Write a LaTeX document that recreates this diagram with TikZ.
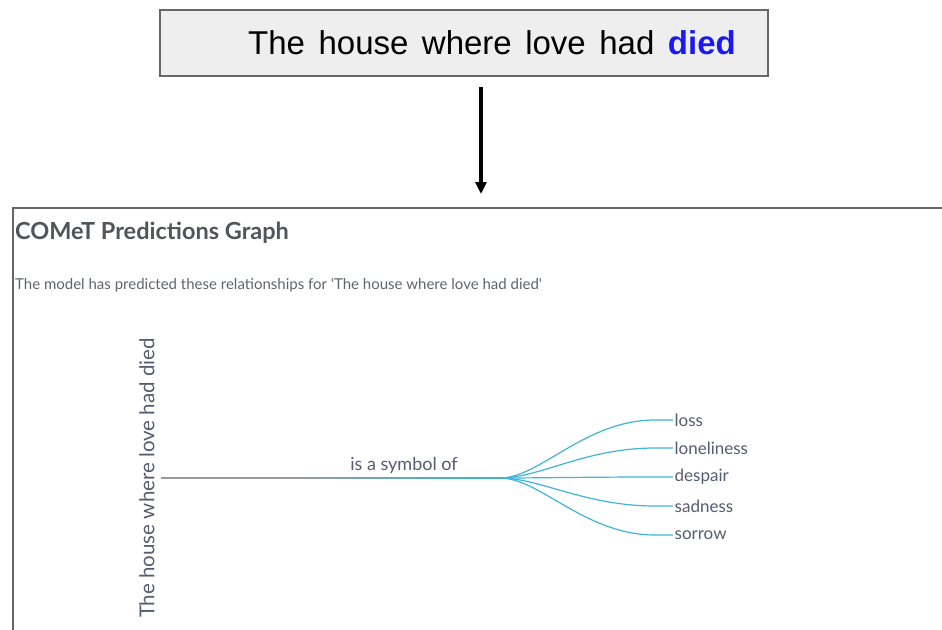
\documentclass[tikz,border=0pt]{standalone}
\usepackage{fontspec}
\setmainfont{Liberation Sans}
\newfontfamily\latofont{Lato}
\usetikzlibrary{positioning, arrows.meta, calc}

\definecolor{boxgray}{HTML}{EEEEEE}
\definecolor{framegray}{HTML}{666666}
\definecolor{diedblue}{HTML}{1A1AEE}
\definecolor{titlegray}{HTML}{50555C}
\definecolor{subgray}{HTML}{60646A}
\definecolor{labelgray}{HTML}{555B70}
\definecolor{linegray}{HTML}{9A9A9A}
\definecolor{branchcyan}{HTML}{3FB4D6}

\begin{document}
\begin{tikzpicture}[x=1pt, y=-1pt,
    inputbox/.style={draw=framegray, line width=1.5pt, fill=boxgray, minimum width=608pt, minimum height=66pt, inner sep=0pt},
    panel/.style={draw=framegray, line width=1.5pt, minimum width=932pt, minimum height=440pt, anchor=north west, inner sep=0pt},
    feed/.style={-{Triangle[length=12pt, width=11pt]}, line width=3.5pt, black},
    leaf/.style={font=\latofont\fontsize{17}{17}\selectfont, text=labelgray, anchor=west, inner sep=1.5pt},
    branch/.style={draw=branchcyan, line width=1.2pt}
]

% Lienzo con las proporciones de la referencia
\useasboundingbox (0,0) rectangle (942,629);

% ==========================
% FRASE DE ENTRADA
% ==========================
\node[inputbox] (inbox) at (464,43) {};
\node[font=\fontsize{33}{33}\selectfont, inner sep=0pt] (phrase) at (492,43)
    {\spaceskip=13.5pt The house where love had {\bfseries\color{diedblue}died}};

% ==========================
% PANEL DEL GRAFO
% ==========================
\node[panel] (frame) at (12,207) {};
\coordinate (feedtop) at (481,87);
\coordinate (feedtip) at (481,194);
\draw[feed] (feedtop) -- (feedtip);

\node[anchor=west, font=\latofont\bfseries\fontsize{23.5}{23.5}\selectfont, text=titlegray, inner sep=0pt] (title) at (15,233) {COMeT Predictions Graph};
\node[anchor=west, font=\latofont\fontsize{15}{15}\selectfont, text=subgray, inner sep=0pt] (subtitle) at (15,285)
    {The model has predicted these relationships for 'The house where love had died'};

% Nodo raiz vertical
\node[rotate=90, font=\latofont\fontsize{20.5}{20.5}\selectfont, text=labelgray, inner sep=0pt] (root) at (147,478) {The house where love had died};
\coordinate (hub) at (500,478);
\coordinate (stem) at ($(root.south)+(6,0)$);

% Arista principal con cambio de color
\foreach \i in {0,...,23} {
    \pgfmathsetmacro{\a}{\i/24}
    \pgfmathsetmacro{\b}{(\i+1)/24}
    \pgfmathtruncatemacro{\mix}{max(0,min(100,(\i-9)*8))}
    \draw[line width=1.3pt, branchcyan!\mix!linegray] ($(stem)!\a!(hub)$) -- ($(stem)!\b!(hub)$);
}
\node[font=\latofont\fontsize{18}{18}\selectfont, text=labelgray, inner sep=0pt] (rel) at (404,465) {is a symbol of};

% ==========================
% PREDICCIONES
% ==========================
\foreach \name/\y in {loss/420, loneliness/448, despair/477, sadness/506, sorrow/535} {
    \node[leaf] (leaf-\name) at (673,\y) {\name};
    \draw[branch] (hub) .. controls +(40,0) and +(-70,0) .. ($(leaf-\name.west)+(-18,0)$) -- (leaf-\name.west);
}

\end{tikzpicture}
\end{document}
